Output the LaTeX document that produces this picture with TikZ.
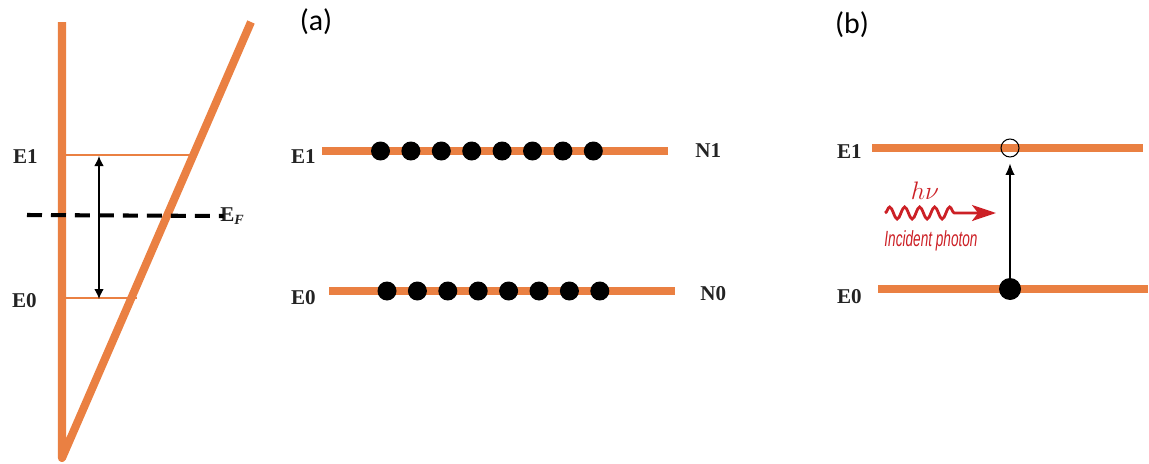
\documentclass[tikz,border=0pt]{standalone}
\usepackage{fontspec}
\setmainfont{Liberation Serif}
\newfontfamily\painelfonte{Carlito}
\newfontfamily\fotonfonte{Liberation Sans}
\usepackage{graphicx}
\usetikzlibrary{arrows.meta,positioning,decorations.pathmorphing}
\definecolor{laranja}{RGB}{234,128,66}
\definecolor{vermelho}{RGB}{204,32,38}
\definecolor{cinza}{RGB}{35,35,35}
\tikzset{
    nivel/.style={draw=laranja, line width=4pt},
    parede/.style={draw=laranja, line width=4.6pt, line join=round},
    nivelfino/.style={draw=laranja, line width=1.1pt},
    eletron/.style={circle, fill=black, inner sep=0pt, minimum size=0.38cm},
    lacuna/.style={circle, draw=black, line width=0.6pt, inner sep=0pt, minimum size=0.36cm},
    rotulo/.style={font=\fontsize{12}{14}\selectfont\bfseries, text=cinza, inner sep=0pt},
    painel/.style={font=\painelfonte\fontsize{17}{20}\selectfont, inner sep=0pt},
    seta/.style={-{Latex[length=2.3mm, width=1.9mm]}, line width=0.7pt},
    setadupla/.style={{Latex[length=2mm, width=1.9mm]}-{Latex[length=2mm, width=1.9mm]}, line width=0.7pt},
    fermi/.style={draw=black, line width=2.3pt, dash pattern=on 0.3cm off 0.18cm},
    foton/.style={
        draw=vermelho,
        line width=1.6pt,
        decorate,
        decoration={snake, amplitude=0.12cm, segment length=0.3cm, post length=0.7cm},
        -{Stealth[length=0.48cm, width=0.32cm, inset=0.12cm]}
    }
}

\begin{document}
\begin{tikzpicture}[x=0.02cm, y=-0.02cm]
    \useasboundingbox (0,0) rectangle (1149,463);

    % poco de potencial
    \coordinate (paredeTopo) at (62,22);
    \coordinate (vertice) at (62,458);
    \coordinate (rampaTopo) at (251,22);
    \draw[parede] (paredeTopo) -- (vertice) -- (rampaTopo);

    \coordinate (e1esq) at (62,155);
    \coordinate (e1dir) at (193,155);
    \coordinate (e0esq) at (62,298);
    \coordinate (e0dir) at (137,298);
    \draw[nivelfino] (e1esq) -- (e1dir);
    \draw[nivelfino] (e0esq) -- (e0dir);

    \coordinate (deltaTopo) at (99,156);
    \coordinate (deltaBase) at (99,299);
    \draw[setadupla] (deltaTopo) -- (deltaBase);

    \coordinate (fermiIni) at (27,215);
    \node[rotulo, anchor=west] (ef) at (220,216) {E\textsubscript{\textit{F}}};
    \draw[fermi] (fermiIni) -- ([xshift=2pt]ef.west);

    \node[rotulo, anchor=east] (poE1) at (38,157) {E1};
    \node[rotulo, anchor=east] (poE0) at (37,301) {E0};

    % (a) populacoes
    \node[painel] (pa) at (316,22) {(a)};
    \coordinate (a1ini) at (322,151);
    \coordinate (a1fim) at (668,151);
    \coordinate (a0ini) at (329,291);
    \coordinate (a0fim) at (675,291);
    \draw[nivel] (a1ini) -- (a1fim);
    \draw[nivel] (a0ini) -- (a0fim);
    \foreach \i in {0,...,7} {
        \node[eletron] (sup\i) at ({380.5+30.4*\i},151) {};
        \node[eletron] (inf\i) at ({387+30.4*\i},291) {};
    }
    \node[rotulo, anchor=east] (aE1) at (316,157) {E1};
    \node[rotulo, anchor=east] (aE0) at (316,298) {E0};
    \node[rotulo, anchor=west] (aN1) at (695,151) {N1};
    \node[rotulo, anchor=west] (aN0) at (700,294) {N0};

    % (b) absorcao
    \node[painel] (pb) at (852,25) {(b)};
    \coordinate (b1ini) at (872,148);
    \coordinate (b1fim) at (1143,148);
    \coordinate (b0ini) at (878,289);
    \coordinate (b0fim) at (1148,289);
    \draw[nivel] (b1ini) -- (b1fim);
    \draw[nivel] (b0ini) -- (b0fim);
    \node[lacuna] (buraco) at (1010,148) {};
    \node[eletron, minimum size=0.44cm] (excitado) at (1010,289) {};
    \draw[seta, shorten >=3.4pt] (excitado) -- (buraco);
    \node[rotulo, anchor=east] (bE1) at (862,152) {E1};
    \node[rotulo, anchor=east] (bE0) at (862,297) {E0};

    \node[text=vermelho, font=\fontsize{15}{17}\selectfont] (hnu) at (925,191) {$h\nu$};
    \coordinate (fotonIni) at (885,213);
    \coordinate (fotonFim) at (996,213);
    \draw[foton] (fotonIni) -- (fotonFim);
    \node[text=vermelho, font=\fotonfonte\itshape\fontsize{12.5}{14}\selectfont] (incidente) at (931,241) {\scalebox{0.62}[1]{Incident photon}};
\end{tikzpicture}
\end{document}
